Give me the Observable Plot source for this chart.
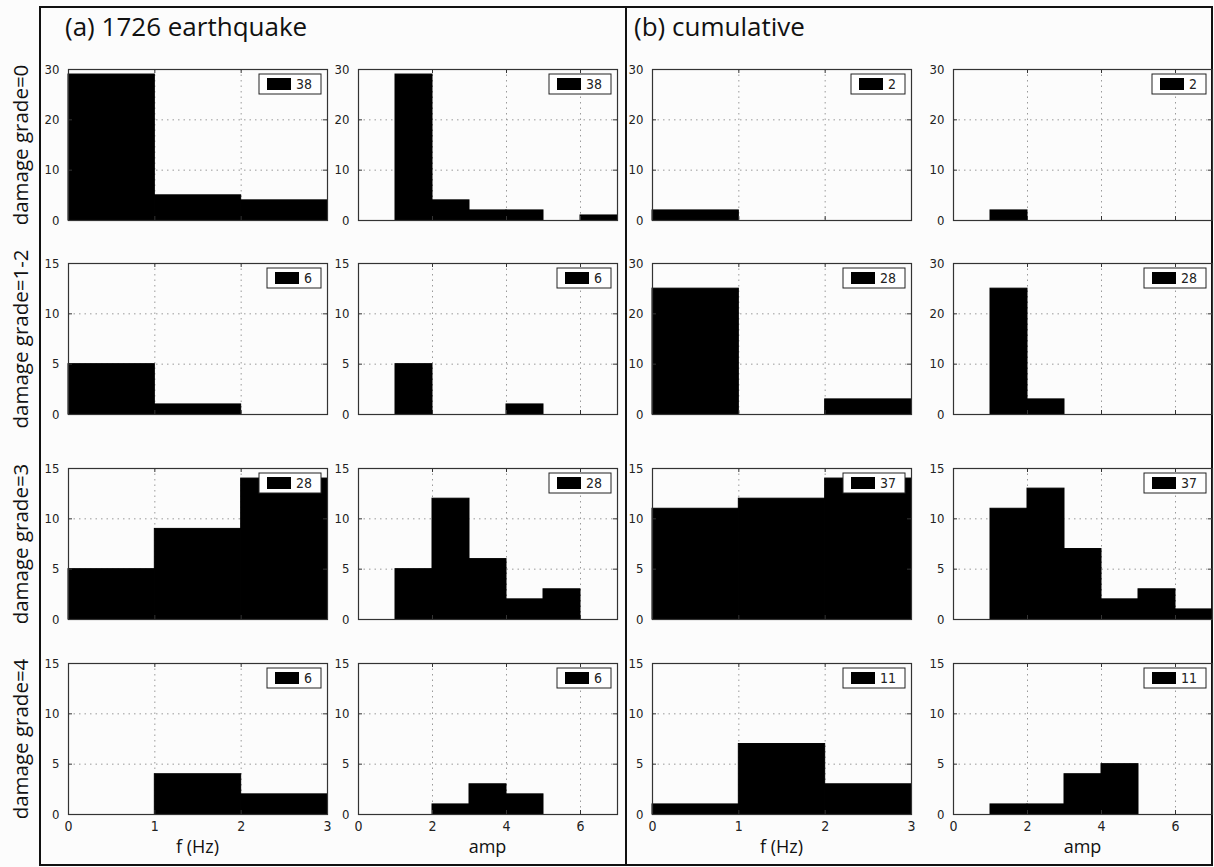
<!DOCTYPE html>
<html>
<head>
<meta charset="utf-8">
<script src="https://cdn.jsdelivr.net/npm/d3@7"></script>
<script src="https://cdn.jsdelivr.net/npm/@observablehq/plot@0.6"></script>
<style>
  html, body { margin: 0; padding: 0; background: #fcfcfc; overflow: hidden; }
  #root { position: relative; width: 1214px; height: 867px; font-family: "Open Sans", Lato, sans-serif; color: #111; }
  .frame { position: absolute; border: 2px solid #111; box-sizing: border-box; }
  .vline { position: absolute; width: 2px; background: #111; }
  .title { position: absolute; font-size: 26px; white-space: nowrap; line-height: 1; }
  .rowlab { position: absolute; font-size: 20.5px; white-space: nowrap; transform: translate(-50%, -50%) rotate(-90deg); line-height: 1; }
  .xlab { position: absolute; font-size: 18px; white-space: nowrap; transform: translateX(-50%); line-height: 1; }
</style>
</head>
<body>
<div id="root"></div>
<script>
// ---- data ----
const rowLabels = ["damage grade=0", "damage grade=1-2", "damage grade=3", "damage grade=4"];
const groupTitles = ["(a) 1726 earthquake", "(b) cumulative"];
const xTitles = ["f (Hz)", "amp"];
const fEdges = [0, 1, 2, 3];
const ampEdges = [0, 1, 2, 3, 4, 5, 6, 7];
const fTicks = [0, 1, 2, 3];
const ampTicks = [0, 2, 4, 6];
// counts per bin, one row per damage grade
const eq1726F = [[29, 5, 4], [5, 1, 0], [5, 9, 14], [0, 4, 2]];
const eq1726Amp = [[0, 29, 4, 2, 2, 0, 1], [0, 5, 0, 0, 1, 0, 0], [0, 5, 12, 6, 2, 3, 0], [0, 0, 1, 3, 2, 0, 0]];
const cumF = [[2, 0, 0], [25, 0, 3], [11, 12, 14], [1, 7, 3]];
const cumAmp = [[0, 2, 0, 0, 0, 0, 0], [0, 25, 3, 0, 0, 0, 0], [0, 11, 13, 7, 2, 3, 1], [0, 1, 1, 4, 5, 0, 0]];
// y-axis maxima per row, per column (a-f, a-amp, b-f, b-amp)
const yMaxes = [[30, 30, 30, 30], [15, 15, 30, 30], [15, 15, 15, 15], [15, 15, 15, 15]];

// ---- layout ----
const root = document.getElementById("root");
const colLeft = [68, 358, 652, 953];
const rowTop = [69, 263, 468, 663];
const PW = 259, PH = 151;
const tickFont = "'Liberation Sans Narrow', 'DejaVu Sans Condensed', Roboto, sans-serif";

function add(cls, text, style) {
  const d = document.createElement("div");
  d.className = cls;
  if (text != null) d.textContent = text;
  Object.assign(d.style, style);
  root.appendChild(d);
  return d;
}

add("frame", null, {left: "39px", top: "6px", width: "1174px", height: "860px"});
add("vline", null, {left: "625px", top: "6px", height: "860px"});
add("title", groupTitles[0], {left: "65px", top: "13px"});
add("title", groupTitles[1], {left: "634px", top: "13px"});
rowLabels.forEach((t, r) => add("rowlab", t, {left: "20px", top: (rowTop[r] + PH / 2) + "px"}));

function panel(vals, edges, ticks, yMax, showX, left, top) {
  const bars = vals.map((v, i) => ({x1: edges[i], x2: edges[i + 1], y: v})).filter(d => d.y > 0);
  const count = d3.sum(vals);
  const yTicks = yMax === 30 ? [0, 10, 20, 30] : [0, 5, 10, 15];
  const xDomain = [edges[0], edges[edges.length - 1]];
  const mL = 34, mR = 6, mT = 8, mB = showX ? 28 : 8;
  const tk = 4;
  const gridStyle = {stroke: "#9a9a9a", strokeOpacity: 1, strokeDasharray: "1.5,4", strokeWidth: 1};
  const marks = [
    Plot.gridX(ticks.filter(t => t > xDomain[0] && t < xDomain[1]), gridStyle),
    Plot.gridY(yTicks.filter(t => t > 0 && t < yMax), gridStyle),
    Plot.rectY(bars, {x1: "x1", x2: "x2", y: "y", fill: "black", stroke: "black", strokeWidth: 1}),
    Plot.tickX(ticks, {x: d => d, insetTop: PH - tk, stroke: "#333"}),
    Plot.tickX(ticks, {x: d => d, insetBottom: PH - tk, stroke: "#333"}),
    Plot.tickY(yTicks, {y: d => d, insetRight: PW - tk, stroke: "#333"}),
    Plot.tickY(yTicks, {y: d => d, insetLeft: PW - tk, stroke: "#333"}),
    Plot.frame({stroke: "#333", strokeWidth: 1.2}),
    Plot.axisY(yTicks, {tickSize: 0, tickPadding: 9, label: null, fontSize: 13})
  ];
  if (showX) marks.push(Plot.axisX(ticks, {tickSize: 0, tickPadding: 7, label: null, fontSize: 14}));
  const svg = Plot.plot({
    width: PW + mL + mR,
    height: PH + mT + mB,
    marginLeft: mL, marginRight: mR, marginTop: mT, marginBottom: mB,
    x: {domain: xDomain, axis: null},
    y: {domain: [0, yMax], axis: null},
    style: {background: "transparent", fontFamily: tickFont, fontSize: "13px", color: "#222", overflow: "visible"},
    marks
  });
  // legend box (count of the panel)
  const s = d3.select(svg);
  const label = String(count);
  const bw = 46 + 8 * label.length;
  const g = s.append("g").attr("transform", `translate(${mL + PW - 6 - bw},${mT + 5})`);
  g.append("rect").attr("width", bw).attr("height", 20).attr("fill", "white").attr("stroke", "#222").attr("stroke-width", 1);
  g.append("rect").attr("x", 8).attr("y", 4).attr("width", 24).attr("height", 12).attr("fill", "black");
  g.append("text").attr("x", 37).attr("y", 15).attr("text-anchor", "start")
    .attr("font-size", "14px").attr("font-family", tickFont).attr("fill", "#222").text(label);
  svg.style.position = "absolute";
  svg.style.left = (left - mL) + "px";
  svg.style.top = (top - mT) + "px";
  svg.style.maxWidth = "none";
  root.appendChild(svg);
}

const columns = [
  {data: eq1726F, edges: fEdges, ticks: fTicks},
  {data: eq1726Amp, edges: ampEdges, ticks: ampTicks},
  {data: cumF, edges: fEdges, ticks: fTicks},
  {data: cumAmp, edges: ampEdges, ticks: ampTicks}
];

for (let r = 0; r < 4; r++) {
  columns.forEach((c, ci) => {
    panel(c.data[r], c.edges, c.ticks, yMaxes[r][ci], r === 3, colLeft[ci], rowTop[r]);
  });
}
columns.forEach((c, ci) => {
  add("xlab", xTitles[ci % 2], {left: (colLeft[ci] + PW / 2) + "px", top: "837px"});
});
</script>
</body>
</html>
